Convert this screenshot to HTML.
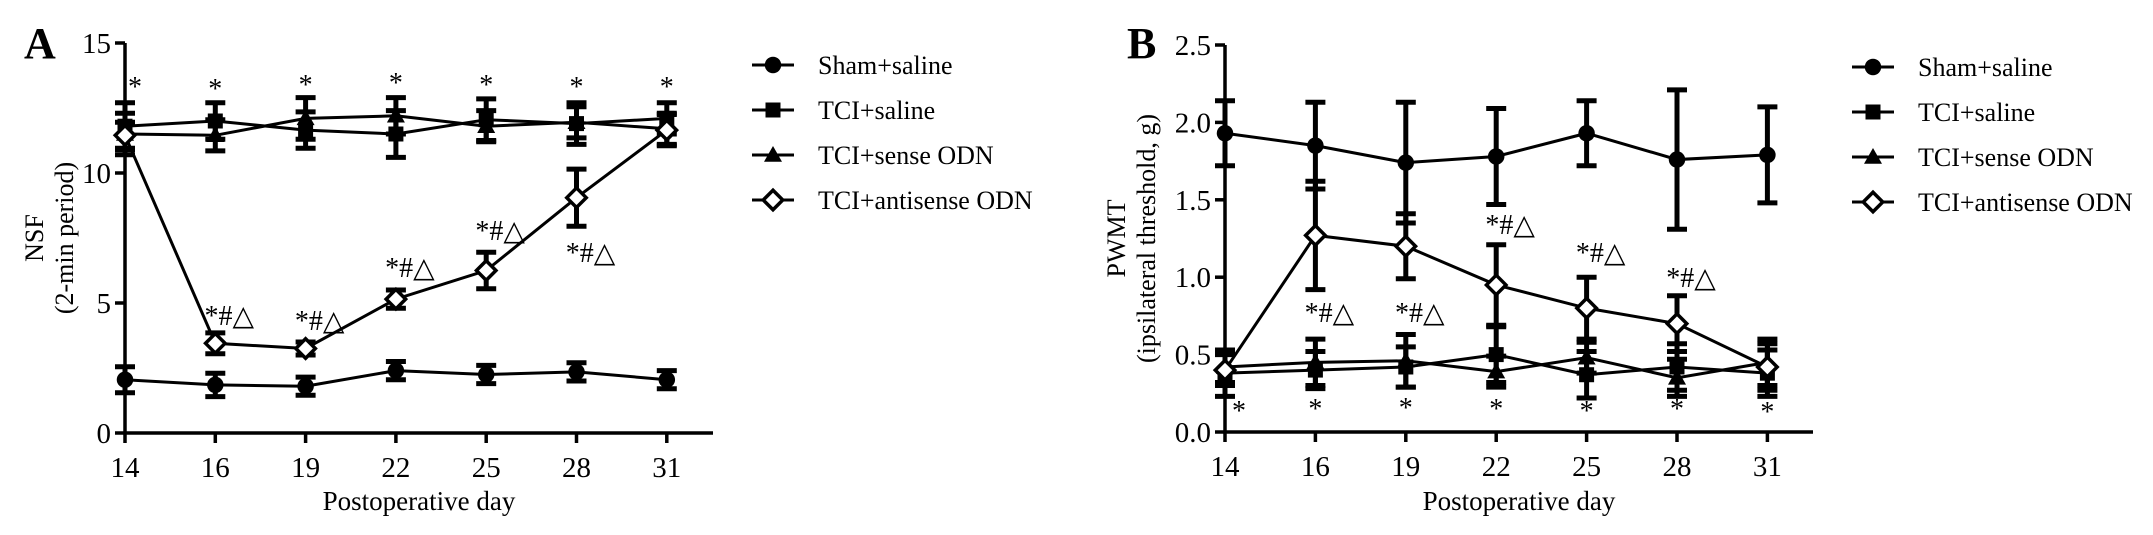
<!DOCTYPE html>
<html><head><meta charset="utf-8"><style>
body{margin:0;background:#fff;}
svg{display:block;font-family:"Liberation Serif","DejaVu Serif",serif;}
</style></head><body>
<svg id="fig" width="2153" height="535" viewBox="0 0 2153 535" xmlns="http://www.w3.org/2000/svg"></svg>
<script>
const days = ["14","16","19","22","25","28","31"];
const seriesNames = ["Sham+saline","TCI+saline","TCI+sense ODN","TCI+antisense ODN"];
const markers = ["circle","square","triangle","diamond"];
// Panel A (NSF)
const aSham = [2.05,1.85,1.8,2.4,2.25,2.35,2.05];
const aShamErr = [0.5,0.45,0.35,0.35,0.35,0.35,0.35];
const aSaline = [11.8,12.0,11.65,11.5,12.05,11.9,12.1];
const aSalineErr = [0.9,0.7,0.7,0.9,0.8,0.8,0.6];
const aSense = [11.5,11.45,12.1,12.2,11.8,11.95,11.7];
const aSenseErr = [0.8,0.6,0.8,0.7,0.6,0.6,0.6];
const aAnti = [11.45,3.45,3.25,5.15,6.25,9.05,11.65];
const aAntiErr = [0.5,0.4,0.25,0.35,0.7,1.1,0.6];
const aTicks = [0,5,10,15];
const aTickLabels = ["0","5","10","15"];
// Panel B (PWMT)
const bSham = [1.93,1.85,1.74,1.78,1.93,1.76,1.79];
const bShamErr = [0.21,0.28,0.39,0.31,0.21,0.45,0.31];
const bSaline = [0.38,0.4,0.42,0.5,0.37,0.42,0.38];
const bSalineErr = [0.15,0.12,0.13,0.18,0.15,0.15,0.15];
const bSense = [0.42,0.45,0.46,0.39,0.48,0.35,0.45];
const bSenseErr = [0.1,0.15,0.17,0.1,0.1,0.12,0.15];
const bAnti = [0.4,1.27,1.2,0.95,0.8,0.7,0.42];
const bAntiErr = [0.1,0.35,0.21,0.26,0.2,0.18,0.15];
const bTicks = [0,0.5,1.0,1.5,2.0,2.5];
const bTickLabels = ["0.0","0.5","1.0","1.5","2.0","2.5"];

const NS="http://www.w3.org/2000/svg";
const svg=document.getElementById('fig');
function mk(tag,attrs,parent,text){const e=document.createElementNS(NS,tag);for(const k in attrs)e.setAttribute(k,attrs[k]);if(text!==undefined)e.textContent=text;(parent||svg).appendChild(e);return e;}

function marker(g,type,x,y,s){
  let e;
  if(type==="circle") e=mk('circle',{cx:x,cy:y,r:s*0.55,fill:'#000'},g);
  else if(type==="square") e=mk('rect',{x:x-s*0.5,y:y-s*0.5,width:s,height:s,fill:'#000'},g);
  else if(type==="triangle") e=mk('polygon',{points:`${x},${y-s*0.6} ${x-s*0.6},${y+s*0.45} ${x+s*0.6},${y+s*0.45}`,fill:'#000'},g);
  else e=mk('polygon',{points:`${x},${y-s*0.65} ${x+s*0.65},${y} ${x},${y+s*0.65} ${x-s*0.65},${y}`,fill:'#fff',stroke:'#000','stroke-width':3.5},g);
  return e;
}

function panel(cfg){
  const g=mk('g',{});
  
  
  const xs=i=>cfg.x0+i*cfg.dx;
  const ys=v=>cfg.y0-(v-cfg.vmin)/(cfg.vmax-cfg.vmin)*(cfg.y0-cfg.y1);
  // axes
  const ax=mk('path',{d:`M${cfg.x0},${ys(cfg.vmax)} L${cfg.x0},${cfg.y0} L${cfg.xEnd},${cfg.y0}`,fill:'none',stroke:'#000','stroke-width':3.5},g);
  
  
  cfg.ticks.forEach((t,i)=>{
    mk('line',{x1:cfg.x0-10,x2:cfg.x0,y1:ys(t),y2:ys(t),stroke:'#000','stroke-width':3.5},g);
    const tl=mk('text',{x:cfg.x0-14,y:ys(t)+10,'text-anchor':'end','font-size':29},g,cfg.tickLabels[i]);
    
    
  });
  days.forEach((d,i)=>{
    mk('line',{x1:xs(i),x2:xs(i),y1:cfg.y0,y2:cfg.y0+10,stroke:'#000','stroke-width':3.5},g);
    const tl=mk('text',{x:xs(i),y:cfg.y0+44,'text-anchor':'middle','font-size':29},g,d);
    
    
  });
  const xt=mk('text',{x:(cfg.x0+cfg.xEnd)/2,y:510,'text-anchor':'middle','font-size':27},g,'Postoperative day');
  
  
  const yt=mk('text',{transform:`translate(${cfg.x0-cfg.ytOff},${(cfg.y0+ys(cfg.vmax))/2}) rotate(-90)`,'text-anchor':'middle','font-size':26},g);
  
  
  mk('tspan',{x:0,dy:0},yt,cfg.ytitle1);
  mk('tspan',{x:0,dy:30},yt,cfg.ytitle2);
  const pl=mk('text',{x:cfg.labelX,y:58,'font-size':44,'font-weight':'bold'},g,cfg.label);
  
  
  // series: error bars, lines, markers
  cfg.series.forEach((s,si)=>{
    const sg=mk('g',{},g);
    
    
    s.vals.forEach((v,i)=>{
      const x=xs(i),yt2=ys(v+s.err[i]),yb=ys(v-s.err[i]);
      mk('line',{x1:x,x2:x,y1:yt2,y2:yb,stroke:'#000','stroke-width':5},sg);
      mk('line',{x1:x-10,x2:x+10,y1:yt2,y2:yt2,stroke:'#000','stroke-width':5},sg);
      mk('line',{x1:x-10,x2:x+10,y1:yb,y2:yb,stroke:'#000','stroke-width':5},sg);
    });
  });
  cfg.series.forEach((s,si)=>{
    const pts=s.vals.map((v,i)=>`${xs(i)},${ys(v)}`).join(' ');
    const ln=mk('polyline',{points:pts,fill:'none',stroke:'#000','stroke-width':3},g);
    
    
  });
  cfg.series.forEach((s,si)=>{
    s.vals.forEach((v,i)=>{
      const m=marker(g,markers[si],xs(i),ys(v),15);
      
      
    });
  });
  // annotations
  cfg.stars.forEach((p,i)=>{
    const t=mk('text',{x:xs(i)+(i===0?cfg.starShift0:0),y:p,'text-anchor':'middle','font-size':28},g,'*');
    
    
  });
  cfg.marks.forEach(p=>{
    const t=mk('text',{x:xs(p[0])+14,y:p[1],'text-anchor':'middle','font-size':28,'font-family':'"Liberation Serif","DejaVu Sans",serif'},g,'*#△');
    
    
  });
  // legend
  seriesNames.forEach((n,i)=>{
    const y=cfg.legY+i*45;
    const lg=mk('g',{},g);
    
    
    mk('line',{x1:cfg.legX-21,x2:cfg.legX+21,y1:y,y2:y,stroke:'#000','stroke-width':3},lg);
    marker(lg,markers[i],cfg.legX,y,15);
    mk('text',{x:cfg.legX+45,y:y+9,'font-size':26},lg,n);
  });
}

panel({name:'panel-a',label:'A',labelX:24,x0:125,dx:90.3,xEnd:713,y0:433,y1:43,vmin:0,vmax:15,
  ticks:aTicks,tickLabels:aTickLabels,ytitle1:'NSF',ytitle2:'(2-min period)',ytOff:82,
  series:[{vals:aSham,err:aShamErr},{vals:aSaline,err:aSalineErr},{vals:aSense,err:aSenseErr},{vals:aAnti,err:aAntiErr}],
  stars:[96,98,94,92,94,96,96],starShift0:10,
  marks:[[1,325],[2,330],[3,277],[4,240],[5,262]],
  legX:773,legY:65});
panel({name:'panel-b',label:'B',labelX:1127,x0:1225,dx:90.4,xEnd:1813,y0:432,y1:45,vmin:0,vmax:2.5,
  ticks:bTicks,tickLabels:bTickLabels,ytitle1:'PWMT',ytitle2:'(ipsilateral threshold, g)',ytOff:100,
  series:[{vals:bSham,err:bShamErr},{vals:bSaline,err:bSalineErr},{vals:bSense,err:bSenseErr},{vals:bAnti,err:bAntiErr}],
  stars:[420,418,417,418,420,418,421],starShift0:14,
  marks:[[1,322],[2,322],[3,234],[4,262],[5,287]],
  legX:1873,legY:67});
</script>
</body></html>
